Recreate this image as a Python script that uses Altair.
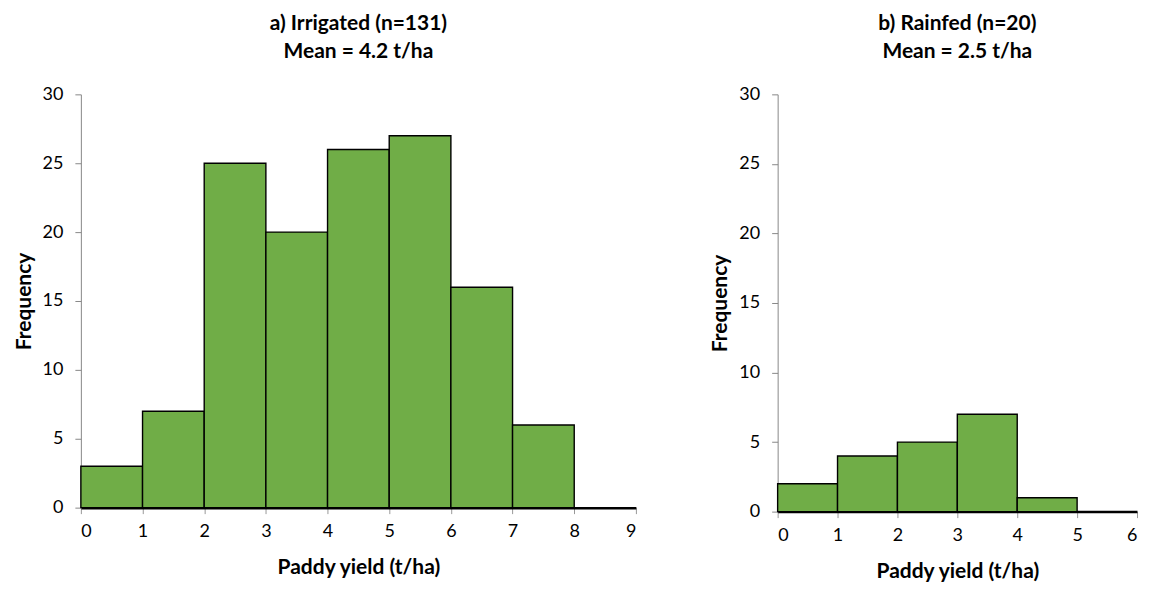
import altair as alt
import pandas as pd

irr_start = [0, 1, 2, 3, 4, 5, 6, 7]
irr_freq = [3, 7, 25, 20, 26, 27, 16, 6]
rain_start = [0, 1, 2, 3, 4]
rain_freq = [2, 4, 5, 7, 1]

FONT = "Lato"
GREEN = "#70AD47"

def panel(starts, freqs, xmax, title_lines, w, h):
    df = pd.DataFrame({"x0": starts, "x1": [s + 1 for s in starts], "freq": freqs})
    return alt.Chart(df).mark_rect(
        color=GREEN, stroke="black", strokeWidth=1.4
    ).encode(
        x=alt.X("x0:Q", scale=alt.Scale(domain=[0, xmax], nice=False),
                axis=alt.Axis(title="Paddy yield (t/ha)", values=list(range(xmax + 1)),
                              grid=False, domainColor="black", domainWidth=2.5,
                              tickColor="#999", tickSize=6, labelPadding=9,
                              titlePadding=16, format="d")),
        x2="x1:Q",
        y=alt.Y("freq:Q", scale=alt.Scale(domain=[0, 30], nice=False),
                axis=alt.Axis(title="Frequency", values=[0, 5, 10, 15, 20, 25, 30],
                              grid=False, domainColor="#888", domainWidth=1,
                              tickColor="#888", tickSize=6, labelPadding=12,
                              titlePadding=8)),
        y2=alt.datum(0),
    ).properties(
        width=w, height=h,
        title=alt.TitleParams(title_lines, fontSize=21, fontWeight="bold", font=FONT,
                              anchor="middle", offset=23, lineHeight=28, color="black"),
    )

left = panel(irr_start, irr_freq, 9, ["a) Irrigated (n=131)", "Mean = 4.2 t/ha"], 556, 414)
right = panel(rain_start, rain_freq, 6, ["b) Rainfed (n=20)", "Mean = 2.5 t/ha"], 360, 418)

chart = alt.hconcat(left, right, spacing=73).configure_view(stroke=None).configure_axis(
    labelFont=FONT, titleFont=FONT, labelFontSize=18, titleFontSize=21,
    titleFontWeight="bold", labelColor="black", titleColor="black"
)

chart.save("out.html", embed_options={"renderer": "svg", "actions": False})
